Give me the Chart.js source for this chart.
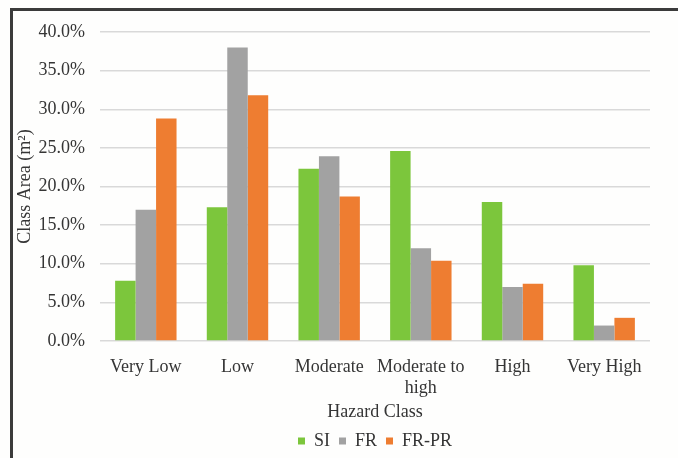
<!DOCTYPE html>
<html>
<head>
<meta charset="utf-8">
<script src="https://cdn.jsdelivr.net/npm/chart.js@4"></script>
<style>
  html, body { margin: 0; padding: 0; background: #ffffff; }
  #wrap { position: relative; width: 678px; height: 458px; overflow: hidden; background: #fefefd; }
  #frame { position: absolute; left: 10px; top: 8px; right: -5px; bottom: -5px;
           border-top: 3px solid #3b3b3b; border-left: 3px solid #3b3b3b; pointer-events: none; }
  canvas { position: absolute; left: 0; top: 0; }
</style>
</head>
<body>
<div id="wrap">
  <canvas id="c" width="678" height="460"></canvas>
  <div id="frame"></div>
</div>
<script>
// Hazard classes along the x axis
const categories = ['Very Low', 'Low', 'Moderate', ['Moderate to', 'high'], 'High', 'Very High'];
// Share of total area (%) per hazard class for each method
const siValues   = [7.8, 17.3, 22.3, 24.6, 18.0, 9.8];
const frValues   = [17.0, 38.0, 23.9, 12.0, 7.0, 2.0];
const frprValues = [28.8, 31.8, 18.7, 10.4, 7.4, 3.0];
// Percentage ticks on the y axis
const yTicks = [0, 5, 10, 15, 20, 25, 30, 35, 40];

const serif = "'Liberation Serif', 'Times New Roman', serif";
const textColor = '#353535';
const font18 = { family: serif, size: 18 };

new Chart(document.getElementById('c'), {
  type: 'bar',
  data: {
    labels: categories,
    datasets: [
      { label: 'SI',    data: siValues,   backgroundColor: '#7cc63c' },
      { label: 'FR',    data: frValues,   backgroundColor: '#a2a2a2' },
      { label: 'FR-PR', data: frprValues, backgroundColor: '#ee7d31' }
    ]
  },
  options: {
    responsive: false,
    animation: false,
    layout: { padding: { left: 13, right: 28, top: 32, bottom: 0 } },
    datasets: { bar: { categoryPercentage: 0.67, barPercentage: 1.0 } },
    plugins: {
      legend: {
        position: 'bottom',
        fullSize: false,
        labels: {
          boxWidth: 7, boxHeight: 7, padding: 9,
          color: textColor,
          font: font18
        }
      },
      tooltip: { enabled: false }
    },
    scales: {
      x: {
        grid: { display: false, drawTicks: false },
        border: { display: false },
        ticks: { color: textColor, font: { family: serif, size: 18, lineHeight: 1.15 }, padding: 16, maxRotation: 0, autoSkip: false },
        title: { display: true, text: 'Hazard Class', color: textColor, font: font18, padding: 0 },
        afterFit: s => { s.height = 82; }
      },
      y: {
        min: 0, max: 40,
        afterBuildTicks: s => { s.ticks = yTicks.map(v => ({ value: v })); },
        grid: { color: '#d9d9d9', drawTicks: false, lineWidth: 1.5 },
        border: { display: false },
        ticks: {
          color: textColor, font: font18, padding: 15,
          callback: v => v.toFixed(1) + '%'
        },
        title: { display: true, text: 'Class Area (m²)', color: textColor, font: font18, padding: { top: 1, bottom: 0 } },
        afterFit: s => { s.width = 87; }
      }
    }
  }
});
</script>
</body>
</html>
